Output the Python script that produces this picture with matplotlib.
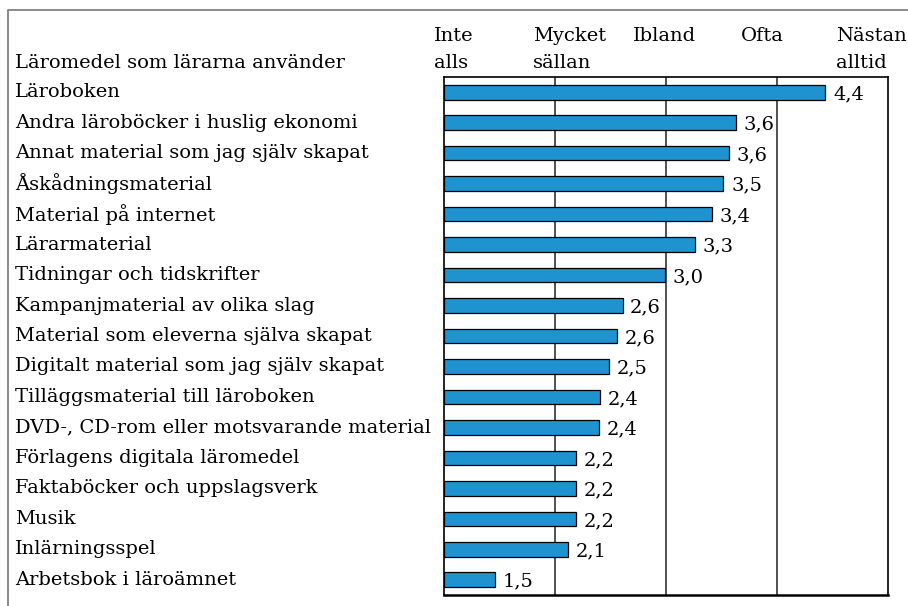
import matplotlib
matplotlib.use('Agg')
import matplotlib.pyplot as plt
from matplotlib.lines import Line2D
import numpy as np

# data
categories = [
    'Läroboken',
    'Andra läroböcker i huslig ekonomi',
    'Annat material som jag själv skapat',
    'Åskådningsmaterial',
    'Material på internet',
    'Lärarmaterial',
    'Tidningar och tidskrifter',
    'Kampanjmaterial av olika slag',
    'Material som eleverna själva skapat',
    'Digitalt material som jag själv skapat',
    'Tilläggsmaterial till läroboken',
    'DVD-, CD-rom eller motsvarande material',
    'Förlagens digitala läromedel',
    'Faktaböcker och uppslagsverk',
    'Musik',
    'Inlärningsspel',
    'Arbetsbok i läroämnet',
]
means = [4.44, 3.63, 3.57, 3.52, 3.42, 3.26, 2.99, 2.61, 2.56, 2.49,
         2.41, 2.40, 2.19, 2.19, 2.19, 2.12, 1.46]

scale_top = ['Inte', 'Mycket', 'Ibland', 'Ofta', 'Nästan']
scale_bottom = ['alls', 'sällan', '', '', 'alltid']
title = 'Läromedel som lärarna använder'

W, H = 908, 606
FONT = 'DejaVu Serif'
FS = 14
BAR_COLOR = '#1f93d0'

plt.rcParams['font.family'] = FONT

fig = plt.figure(figsize=(W / 100, H / 100), dpi=100)
ax = fig.add_axes([444 / W, 1 - 595 / H, (887.5 - 444) / W, (595 - 77) / H])

y = np.arange(len(categories))
ax.barh(y, np.array(means) - 1, left=1, height=0.48, color=BAR_COLOR,
        edgecolor='black', linewidth=0.9, zorder=3)

for yi, v in zip(y, means):
    ax.annotate(f'{v:.1f}'.replace('.', ','), (v, yi), xytext=(5.5, -1.5),
                textcoords='offset points', va='center', ha='left',
                fontsize=FS, color='black')

ax.set_xlim(1, 5)
ax.set_ylim(len(categories) - 0.5, -0.5)
for gx in [2, 3, 4]:
    ax.axvline(gx, color='#333333', linewidth=1.2, zorder=1)
ax.set_xticks([])
ax.set_yticks([])
for s in ax.spines.values():
    s.set_color('black')
    s.set_linewidth(1.2)
ax.spines['bottom'].set_linewidth(1.8)

# category labels on the left, in pixel positions matching the bars
to_fig = ax.transData + fig.transFigure.inverted()
for yi, cat in zip(y, categories):
    _, fy = to_fig.transform((1, yi))
    fig.text(15 / W, fy, cat, ha='left', va='center', fontsize=FS)

# header texts
fig.text(15 / W, 1 - 67.5 / H, title, ha='left', va='baseline', fontsize=FS)
header_x = [434, 532.7, 633, 741, 835.7]
for hx, t1, t2 in zip(header_x, scale_top, scale_bottom):
    fig.text(hx / W, 1 - 41 / H, t1, ha='left', va='baseline', fontsize=FS)
    if t2:
        fig.text(hx / W, 1 - 67.5 / H, t2, ha='left', va='baseline', fontsize=FS)

# thin frame on the left and top of the figure
fig.add_artist(Line2D([7.5 / W, 7.5 / W, 1], [0, 1 - 10 / H, 1 - 10 / H],
                      transform=fig.transFigure, color='#808080', linewidth=1.3))

fig.savefig('out.png', dpi=100)
